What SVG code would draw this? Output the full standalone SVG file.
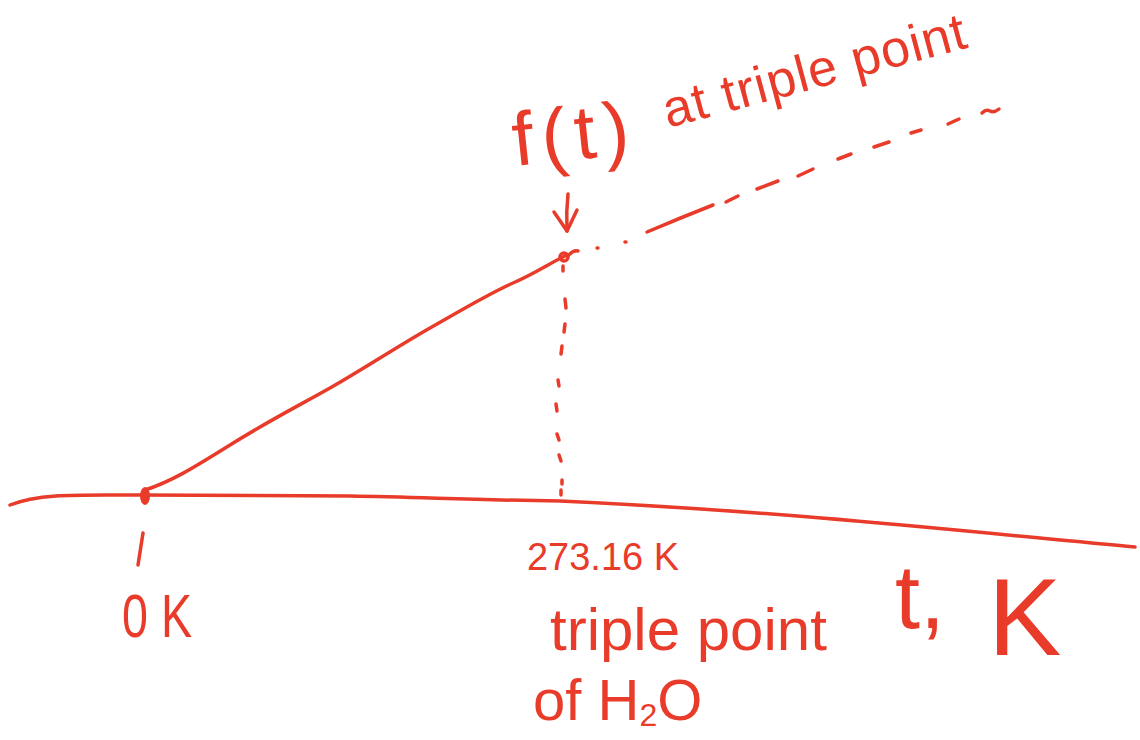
<svg xmlns="http://www.w3.org/2000/svg" width="1140" height="740" viewBox="0 0 1140 740">
<style>
.s{fill:none;stroke:#e93b2a;stroke-width:3.5;stroke-linecap:round;stroke-linejoin:round}
.t{fill:#e93b2a;font-family:"Liberation Sans","DejaVu Sans",sans-serif}
</style>
<rect width="1140" height="740" fill="#ffffff"/>
<g id="axis">
<path class="s" d="M10,505 C40,493 80,495 140,495 L350,496 C420,497 470,500 560,501 C800,512 1000,535 1135,547"/>
<ellipse cx="145" cy="496" rx="5" ry="9" fill="#e93b2a"/>
<line class="s" x1="143" y1="533" x2="138" y2="565"/>
</g>
<g id="connectors">
<path class="s" d="M145,490 C170,482 190,470 230,445 S300,405 330,388 S400,345 430,328 S490,293 513,283 S550,263 565,256"/>
<circle class="s" cx="564" cy="257" r="4"/>
<path class="s" d="M568,256 Q573,250 578,251"/>
<g id="dotted-drop" class="s">
<line x1="563" y1="266" x2="563" y2="271"/>
<line x1="565" y1="299" x2="566" y2="308"/>
<line x1="565" y1="324" x2="564" y2="332"/>
<line x1="562" y1="346" x2="561" y2="354"/>
<line x1="558" y1="380" x2="559" y2="386"/>
<line x1="556" y1="404" x2="557" y2="411"/>
<line x1="557" y1="434" x2="559" y2="440"/>
<line x1="559" y1="455" x2="561" y2="461"/>
<line x1="562" y1="480" x2="562" y2="484"/>
<line x1="561" y1="490" x2="561" y2="495"/>
</g>
<g id="dashed-extension" class="s">
<line x1="597" y1="248" x2="598" y2="248"/>
<line x1="625" y1="242" x2="626" y2="242"/>
<path d="M647,232 Q680,218 713,205"/>
<line x1="726" y1="202" x2="738" y2="196"/>
<line x1="757" y1="189" x2="778" y2="181"/>
<line x1="798" y1="176" x2="813" y2="169"/>
<line x1="838" y1="159" x2="851" y2="154"/>
<line x1="874" y1="147" x2="889" y2="142"/>
<line x1="911" y1="133" x2="921" y2="130"/>
<line x1="948" y1="124" x2="959" y2="119"/>
<path d="M982,113 Q986,109 990,111 Q994,113 999,109"/>
</g>
<g id="arrow" class="s">
<path d="M568,194 Q566,212 567,231"/>
<path d="M554,212 L567,231 L577,210"/>
</g>
</g>
<g id="label-ft">
<text class="t" x="515" y="166" font-size="76" letter-spacing="8" transform="rotate(-6 515 166)">f(t)</text>
<text class="t" x="668" y="128" font-size="52" letter-spacing="1" transform="rotate(-15 668 128)">at triple point</text>
</g>
<g id="label-27316">
<text class="t" x="527" y="570" font-size="38" textLength="152" lengthAdjust="spacingAndGlyphs">273.16 K</text>
</g>
<g id="label-0k">
<text class="t" x="122" y="637" font-size="62" textLength="70" lengthAdjust="spacingAndGlyphs">0 K</text>
</g>
<g id="label-triple">
<text class="t" x="550" y="650" font-size="60">triple point</text>
<text class="t" x="533" y="720" font-size="58">of H<tspan font-size="32" dy="6">2</tspan><tspan dy="-6">O</tspan></text>
</g>
<g id="label-tk">
<text class="t" x="895" y="628" font-size="90">t,</text>
<text class="t" x="988" y="655" font-size="110">K</text>
</g>
</svg>
